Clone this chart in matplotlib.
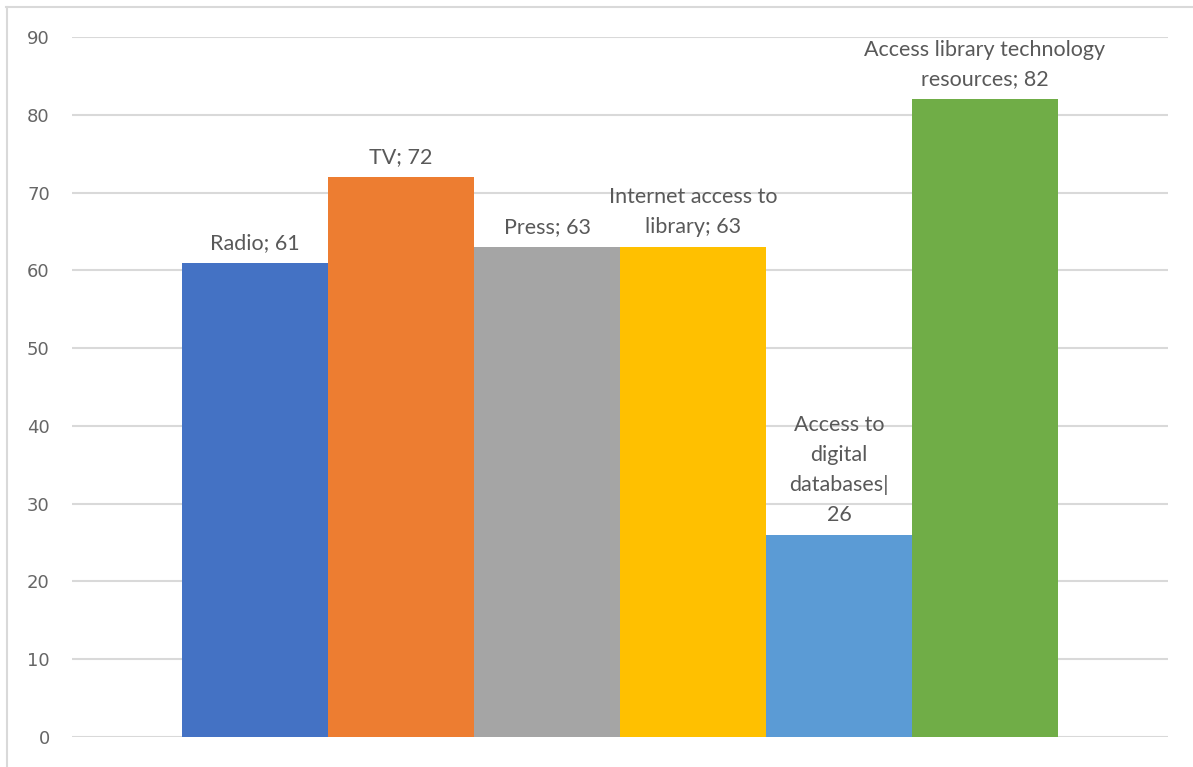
import matplotlib.pyplot as plt
import numpy as np
from matplotlib.lines import Line2D

# Share of respondents by information source
labels = ["Radio; 61", "TV; 72", "Press; 63", "Internet access to\nlibrary; 63",
          "Access to\ndigital\ndatabases|\n26",
          "Access library technology\nresources; 82"]
values = [61, 72, 63, 63, 26, 82]
colors = ["#4472C4", "#ED7D31", "#A5A5A5", "#FFC000", "#5B9BD5", "#70AD47"]
yticks = [0, 10, 20, 30, 40, 50, 60, 70, 80, 90]

plt.rcParams['font.family'] = ['Lato', 'DejaVu Sans']

fig = plt.figure(figsize=(11.93, 7.67), dpi=100)
ax = fig.add_axes([72 / 1193, 30 / 767, 1096 / 1193, 700 / 767])

x = np.arange(len(values))
bars = ax.bar(x, values, width=1.0, color=colors, zorder=2)

# data labels above each bar
for xi, v, lab in zip(x, values, labels):
    ax.annotate(lab, (xi, v), xytext=(0, 7), textcoords='offset points',
                ha='center', va='bottom', fontsize=15.5, color='#595959',
                linespacing=1.62)

gap = 110 / 146
ax.set_xlim(-0.5 - gap, len(values) - 0.5 + gap)
ax.set_ylim(0, 90)
ax.set_yticks(yticks)
ax.set_yticklabels([str(t) for t in yticks], fontfamily='DejaVu Sans',
                   fontsize=13, color='#666666')
ax.tick_params(axis='y', length=0, pad=16)
ax.set_xticks([])
ax.grid(axis='y', color='#D9D9D9', linewidth=1.5, zorder=0)
for s in ax.spines.values():
    s.set_visible(False)

# chart-area border (top and left edges)
fig.add_artist(Line2D([6 / 1193, 1], [1 - 7 / 767, 1 - 7 / 767],
                      color='#D9D9D9', linewidth=1.5))
fig.add_artist(Line2D([7 / 1193, 7 / 1193], [0, 1 - 7 / 767],
                      color='#D9D9D9', linewidth=1.5))

fig.savefig("out.png", dpi=100)
